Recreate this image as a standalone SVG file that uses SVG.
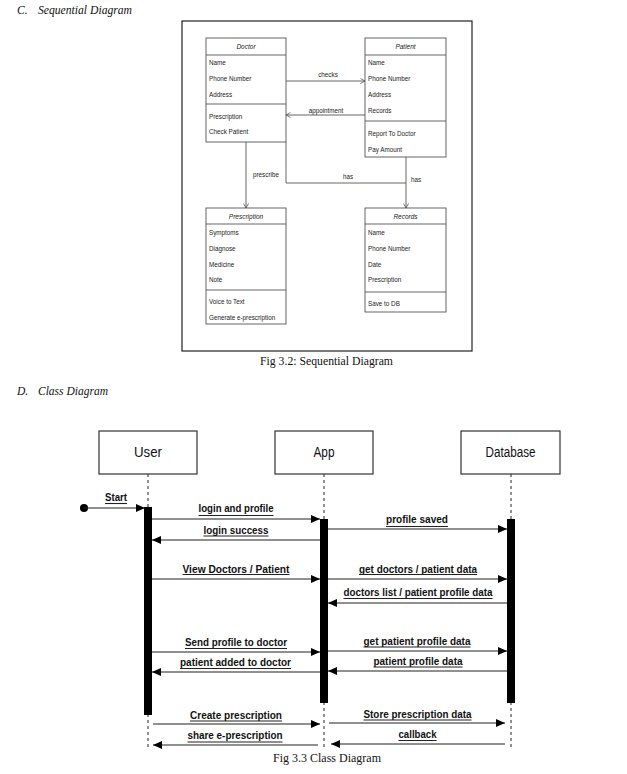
<svg xmlns="http://www.w3.org/2000/svg" width="627" height="774" viewBox="0 0 627 774">
<style>
.bg{fill:#fff}
.head{font-family:"Liberation Serif",serif;font-style:italic;font-size:11.5px;fill:#111}
.cap{font-family:"Liberation Serif",serif;font-size:12px;fill:#111}
.cls{fill:#fff;stroke:#555;stroke-width:0.9}
.sep{stroke:#555;stroke-width:0.9}
.t{font-family:"Liberation Sans",Arial,sans-serif;font-size:6.3px;fill:#222}
.ti{font-family:"Liberation Sans",Arial,sans-serif;font-size:6.5px;font-style:italic;fill:#222;text-anchor:middle}
.rel{fill:none;stroke:#555;stroke-width:0.9}
.rl{font-family:"Liberation Sans",Arial,sans-serif;font-size:6.3px;fill:#222}
.actor{fill:#fff;stroke:#333;stroke-width:1.2}
.an{font-family:"Liberation Sans",Arial,sans-serif;font-size:14px;fill:#111;text-anchor:middle}
.life{stroke:#222;stroke-width:1;stroke-dasharray:3,3}
.bar{fill:#000}
.msg{fill:none;stroke:#222;stroke-width:1.2}
.ml{font-family:"Liberation Sans",Arial,sans-serif;font-size:11.5px;font-weight:bold;fill:#111;text-anchor:middle}
.ul{stroke:#222;stroke-width:1.1}
</style>
<defs>
<marker id="open" markerUnits="userSpaceOnUse" markerWidth="6" markerHeight="6" refX="5" refY="3" orient="auto">
<path d="M0.5,0.5 L5,3 L0.5,5.5" fill="none" stroke="#555" stroke-width="0.8"/>
</marker>
<marker id="solid" markerUnits="userSpaceOnUse" markerWidth="9" markerHeight="8" refX="9" refY="4" orient="auto">
<path d="M0,0 L9,4 L0,8 z" fill="#000"/>
</marker>
</defs>
<rect class="bg" x="0" y="0" width="627" height="774"/>

<text class="head" x="17" y="14">C.</text>
<text class="head" x="38" y="14" textLength="94" lengthAdjust="spacingAndGlyphs">Sequential Diagram</text>

<rect x="182" y="21" width="290" height="330" fill="none" stroke="#222" stroke-width="1.2"/>

<g id="doctor">
<rect class="cls" x="206" y="38" width="80" height="104"/>
<line class="sep" x1="206" y1="55" x2="286" y2="55"/>
<line class="sep" x1="206" y1="104" x2="286" y2="104"/>
<text class="ti" x="246" y="48.5">Doctor</text>
<text class="t" x="209" y="64.5">Name</text>
<text class="t" x="209" y="80.5">Phone Number</text>
<text class="t" x="209" y="96.5">Address</text>
<text class="t" x="209" y="118.5">Prescription</text>
<text class="t" x="209" y="133.5">Check Patient</text>
</g>

<g id="patient">
<rect class="cls" x="365" y="38" width="81" height="119"/>
<line class="sep" x1="365" y1="55" x2="446" y2="55"/>
<line class="sep" x1="365" y1="121" x2="446" y2="121"/>
<text class="ti" x="405.5" y="48.5">Patient</text>
<text class="t" x="368" y="64.5">Name</text>
<text class="t" x="368" y="80.5">Phone Number</text>
<text class="t" x="368" y="96.5">Address</text>
<text class="t" x="368" y="112.5">Records</text>
<text class="t" x="368" y="135.5">Report To Doctor</text>
<text class="t" x="368" y="151.5">Pay Amount</text>
</g>

<g id="prescription">
<rect class="cls" x="206" y="208" width="80" height="116"/>
<line class="sep" x1="206" y1="224" x2="286" y2="224"/>
<line class="sep" x1="206" y1="290" x2="286" y2="290"/>
<text class="ti" x="246" y="218.5">Prescription</text>
<text class="t" x="209" y="234.5">Symptoms</text>
<text class="t" x="209" y="250.5">Diagnose</text>
<text class="t" x="209" y="266.5">Medicine</text>
<text class="t" x="209" y="281.5">Note</text>
<text class="t" x="209" y="303.5">Voice to Text</text>
<text class="t" x="209" y="319.5">Generate e-prescription</text>
</g>

<g id="records">
<rect class="cls" x="365" y="208" width="81" height="104"/>
<line class="sep" x1="365" y1="224" x2="446" y2="224"/>
<line class="sep" x1="365" y1="292" x2="446" y2="292"/>
<text class="ti" x="405.5" y="218.5">Records</text>
<text class="t" x="368" y="234.5">Name</text>
<text class="t" x="368" y="250.5">Phone Number</text>
<text class="t" x="368" y="266.5">Date</text>
<text class="t" x="368" y="281.5">Prescription</text>
<text class="t" x="368" y="305.5">Save to DB</text>
</g>

<g id="class-connectors">
<line class="rel" x1="286" y1="81" x2="365" y2="81" marker-end="url(#open)"/>
<text class="rl" x="328" y="77" text-anchor="middle">checks</text>
<line class="rel" x1="365" y1="115" x2="286" y2="115" marker-end="url(#open)"/>
<text class="rl" x="326" y="112.5" text-anchor="middle">appointment</text>
<line class="rel" x1="246" y1="142" x2="246" y2="208" marker-end="url(#open)"/>
<text class="rl" x="253" y="177">prescribe</text>
<polyline class="rel" points="286,142 286,183 406,183"/>
<text class="rl" x="348" y="179" text-anchor="middle">has</text>
<line class="rel" x1="406" y1="157" x2="406" y2="208" marker-end="url(#open)"/>
<text class="rl" x="411" y="182">has</text>
</g>

<text class="cap" x="326.5" y="365" text-anchor="middle" textLength="133" lengthAdjust="spacingAndGlyphs">Fig 3.2: Sequential Diagram</text>

<text class="head" x="17" y="395">D.</text>
<text class="head" x="38" y="395" textLength="70" lengthAdjust="spacingAndGlyphs">Class Diagram</text>

<g id="user">
<rect class="actor" x="99" y="431" width="98" height="43"/>
<text class="an" x="148" y="457" textLength="28" lengthAdjust="spacingAndGlyphs">User</text>
<line class="life" x1="148" y1="474" x2="148" y2="748"/>
<rect class="bar" x="144" y="507" width="8" height="208"/>
</g>

<g id="app">
<rect class="actor" x="275" y="431" width="98" height="43"/>
<text class="an" x="324" y="457" textLength="21" lengthAdjust="spacingAndGlyphs">App</text>
<line class="life" x1="324" y1="474" x2="324" y2="748"/>
<rect class="bar" x="320" y="519" width="8" height="184"/>
</g>

<g id="database">
<rect class="actor" x="461" y="431" width="99" height="43"/>
<text class="an" x="510.5" y="457" textLength="50" lengthAdjust="spacingAndGlyphs">Database</text>
<line class="life" x1="511" y1="474" x2="511" y2="748"/>
<rect class="bar" x="507" y="519" width="8" height="184"/>
</g>

<g id="start">
<circle cx="84" cy="508" r="4" fill="#000"/>
</g>

<g id="messages">
<line class="msg" x1="84" y1="508" x2="145" y2="508" marker-end="url(#solid)"/>
<text class="ml" x="116" y="501" textLength="22" lengthAdjust="spacingAndGlyphs">Start</text>
<line class="ul" x1="105" y1="503.5" x2="127" y2="503.5"/>

<line class="msg" x1="152" y1="519" x2="320" y2="519" marker-end="url(#solid)"/>
<text class="ml" x="236" y="512" textLength="75" lengthAdjust="spacingAndGlyphs">login and profile</text>
<line class="ul" x1="198.5" y1="515.5" x2="273.5" y2="515.5"/>

<line class="msg" x1="320" y1="540" x2="152" y2="540" marker-end="url(#solid)"/>
<text class="ml" x="236" y="533.5" textLength="65" lengthAdjust="spacingAndGlyphs">login success</text>
<line class="ul" x1="203.5" y1="536" x2="268.5" y2="536"/>

<line class="msg" x1="328" y1="529" x2="507" y2="529" marker-end="url(#solid)"/>
<text class="ml" x="417" y="523" textLength="62" lengthAdjust="spacingAndGlyphs">profile saved</text>
<line class="ul" x1="386" y1="526.5" x2="448" y2="526.5"/>

<line class="msg" x1="152" y1="579" x2="320" y2="579" marker-end="url(#solid)"/>
<text class="ml" x="236" y="572.5" textLength="107" lengthAdjust="spacingAndGlyphs">View Doctors / Patient</text>
<line class="ul" x1="182.5" y1="574.5" x2="289.5" y2="574.5"/>

<line class="msg" x1="328" y1="579" x2="507" y2="579" marker-end="url(#solid)"/>
<text class="ml" x="418" y="572.5" textLength="118" lengthAdjust="spacingAndGlyphs">get doctors / patient data</text>
<line class="ul" x1="359" y1="574.5" x2="477" y2="574.5"/>

<line class="msg" x1="507" y1="603" x2="328" y2="603" marker-end="url(#solid)"/>
<text class="ml" x="418" y="596" textLength="149" lengthAdjust="spacingAndGlyphs">doctors list / patient profile data</text>
<line class="ul" x1="343.5" y1="598.5" x2="492.5" y2="598.5"/>

<line class="msg" x1="152" y1="652" x2="320" y2="652" marker-end="url(#solid)"/>
<text class="ml" x="236" y="645.5" textLength="102" lengthAdjust="spacingAndGlyphs">Send profile to doctor</text>
<line class="ul" x1="185" y1="648.5" x2="287" y2="648.5"/>

<line class="msg" x1="320" y1="672" x2="152" y2="672" marker-end="url(#solid)"/>
<text class="ml" x="235.5" y="666" textLength="111" lengthAdjust="spacingAndGlyphs">patient added to doctor</text>
<line class="ul" x1="180" y1="668.5" x2="291" y2="668.5"/>

<line class="msg" x1="328" y1="651" x2="507" y2="651" marker-end="url(#solid)"/>
<text class="ml" x="417" y="644.5" textLength="107" lengthAdjust="spacingAndGlyphs">get patient profile data</text>
<line class="ul" x1="363.5" y1="647" x2="470.5" y2="647"/>

<line class="msg" x1="507" y1="671" x2="328" y2="671" marker-end="url(#solid)"/>
<text class="ml" x="418" y="664.5" textLength="89" lengthAdjust="spacingAndGlyphs">patient profile data</text>
<line class="ul" x1="373.5" y1="667" x2="462.5" y2="667"/>

<line class="msg" x1="153" y1="724" x2="320" y2="724" marker-end="url(#solid)"/>
<text class="ml" x="236" y="718.5" textLength="92" lengthAdjust="spacingAndGlyphs">Create prescription</text>
<line class="ul" x1="190" y1="721" x2="282" y2="721"/>

<line class="msg" x1="318" y1="745" x2="153" y2="745" marker-end="url(#solid)"/>
<text class="ml" x="235" y="738.5" textLength="95" lengthAdjust="spacingAndGlyphs">share e-prescription</text>
<line class="ul" x1="187.5" y1="742" x2="282.5" y2="742"/>

<line class="msg" x1="329" y1="723" x2="505" y2="723" marker-end="url(#solid)"/>
<text class="ml" x="417.5" y="717.5" textLength="108" lengthAdjust="spacingAndGlyphs">Store prescription data</text>
<line class="ul" x1="363.5" y1="720" x2="471.5" y2="720"/>

<line class="msg" x1="505" y1="744" x2="331" y2="744" marker-end="url(#solid)"/>
<text class="ml" x="417.5" y="737.5" textLength="38" lengthAdjust="spacingAndGlyphs">callback</text>
<line class="ul" x1="398.5" y1="740.5" x2="436.5" y2="740.5"/>
</g>

<text class="cap" x="327" y="762" text-anchor="middle" textLength="108" lengthAdjust="spacingAndGlyphs">Fig 3.3 Class Diagram</text>
</svg>
